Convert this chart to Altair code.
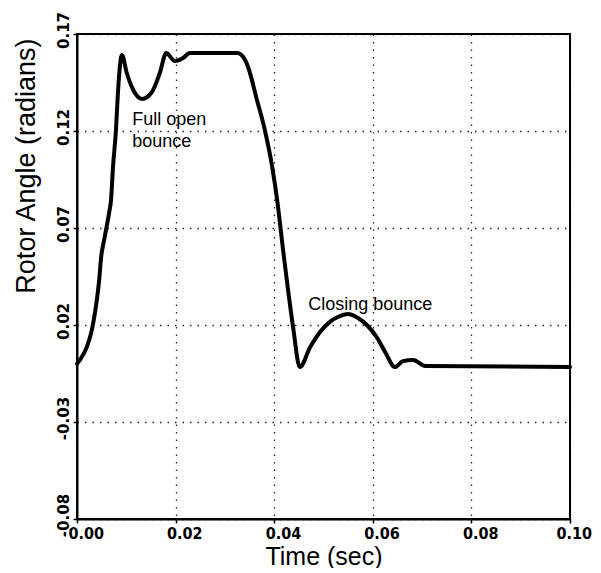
import altair as alt
import pandas as pd

# Rotor angle trace
time_s = [0.0, 0.0006, 0.0020, 0.0030, 0.0041, 0.0045, 0.0049, 0.0055, 0.0065, 0.0069,
          0.0073, 0.0079, 0.0083, 0.0091, 0.0101, 0.0112, 0.0132, 0.0152, 0.0168, 0.0181,
          0.0195, 0.0199, 0.0215, 0.0229, 0.0325, 0.0341, 0.0347, 0.0365, 0.0381, 0.0396,
          0.0406, 0.0418, 0.0438, 0.0452, 0.0473, 0.0493, 0.0513, 0.0529, 0.0550, 0.0570,
          0.0588, 0.0609, 0.0625, 0.0645, 0.0661, 0.0682, 0.0706, 0.1000]
angle_rad = [0.0, 0.0020, 0.0087, 0.0174, 0.0344, 0.0432, 0.0551, 0.0638, 0.0777, 0.0844,
             0.1014, 0.1205, 0.1396, 0.1592, 0.1499, 0.1422, 0.1365, 0.1401, 0.1499, 0.1602,
             0.1566, 0.1561, 0.1576, 0.1602, 0.1602, 0.1566, 0.1530, 0.1360, 0.1205, 0.1014,
             0.0844, 0.0587, 0.0195, -0.0017, 0.0087, 0.0164, 0.0216, 0.0241, 0.0257, 0.0236,
             0.0200, 0.0133, 0.0061, -0.0017, 0.0014, 0.0020, -0.0011, -0.0017]

x_ticks = [0.0, 0.02, 0.04, 0.06, 0.08, 0.10]
y_ticks = [-0.08, -0.03, 0.02, 0.07, 0.12, 0.17]

note_text = ["Full open", "bounce", "Closing bounce"]
note_x = [0.0112, 0.0112, 0.0469]
note_y = [0.1231, 0.1118, 0.0277]

df = pd.DataFrame({"t": time_s, "a": angle_rad})
notes = pd.DataFrame({"label": note_text, "t": note_x, "a": note_y})

label_font = "DejaVu Sans Condensed, DejaVu Sans"
title_font = "Liberation Sans, Arial, Helvetica"

x_enc = alt.X(
    "t:Q",
    scale=alt.Scale(domain=[0, 0.1], nice=False),
    axis=alt.Axis(
        values=x_ticks,
        format=".2f",
        title="Time (sec)",
        titleFont=title_font,
        titleFontSize=25,
        titleFontWeight="normal",
        titleColor="black",
        titleBaseline="alphabetic",
        titleY=45,
        labelFont=label_font,
        labelFontSize=16,
        labelFontWeight="bold",
        labelColor="black",
        labelAlign="left",
        labelBaseline="top",
        labelOffset={"condition": {"test": "datum.value > 0.09", "value": -14}, "value": -9},
        labelPadding=2,
        labelFlush=False,
        labelOverlap=False,
    ),
)
y_enc = alt.Y(
    "a:Q",
    scale=alt.Scale(domain=[-0.08, 0.17], nice=False, zero=False),
    axis=alt.Axis(
        values=y_ticks,
        format=".2f",
        labelExpr="replace(format(datum.value, '.2f'), '\u2212', '-')",
        title="Rotor Angle (radians)",
        titleFont=title_font,
        titleFontSize=27,
        titleFontWeight="normal",
        titleColor="black",
        titleAngle=270,
        titleAlign="right",
        titleBaseline="alphabetic",
        titleX=-43,
        titleY=4,
        labelFont="DejaVu Sans",
        labelFontSize=15,
        labelFontWeight="bold",
        labelColor="black",
        labelAngle=270,
        labelAlign="center",
        labelBaseline="bottom",
        labelOffset=-4,
        labelPadding=2,
        labelFlush=False,
        labelOverlap=False,
    ),
)

line = alt.Chart(df).mark_line(
    color="black", strokeWidth=4, strokeJoin="round", strokeCap="round",
    interpolate="monotone",
).encode(x=x_enc, y=y_enc)

text = alt.Chart(notes).mark_text(
    align="left", baseline="alphabetic", font=title_font, fontSize=18, color="black"
).encode(x="t:Q", y="a:Q", text="label:N")

chart = (
    alt.layer(line, text)
    .properties(
        width=493,
        height=485,
        autosize=alt.AutoSizeParams(type="none"),
        padding={"left": 69, "top": 26, "right": 23, "bottom": 49},
        background="white",
    )
    .configure_view(stroke="black", strokeWidth=2)
    .configure_axis(
        domainColor="black",
        domainWidth=2,
        grid=True,
        gridColor="black",
        gridDash=[1.5, 6],
        gridWidth=1.3,
        gridOpacity=0.85,
        tickColor="black",
        tickSize=4,
        tickWidth=1.5,
    )
)

chart.save("out.html", embed_options={"renderer": "svg", "actions": False})
